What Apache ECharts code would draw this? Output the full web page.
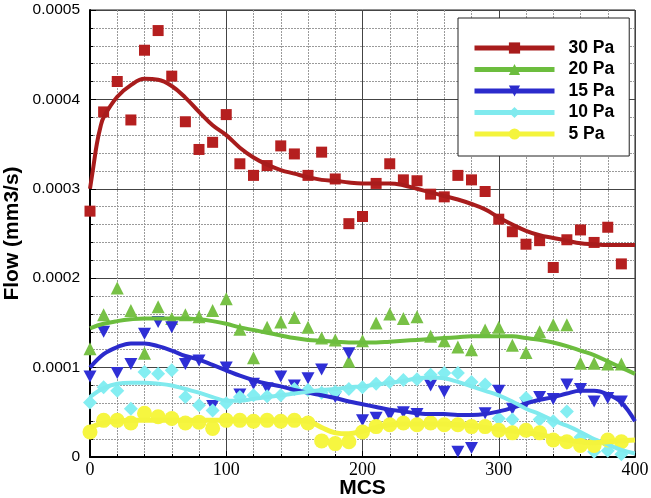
<!DOCTYPE html>
<html>
<head>
<meta charset="utf-8">
<script src="https://cdn.jsdelivr.net/npm/echarts@6/dist/echarts.min.js"></script>
<style>html,body{margin:0;padding:0;background:#fff}#c{width:651px;height:498px}</style>
</head>
<body>
<div id="c"></div>
<script>
// Sample positions (MCS) for measured points
var mcs = [0,10,20,30,40,50,60,70,80,90,100,110,120,130,140,150,160,170,180,190,200,210,220,230,240,250,260,270,280,290,300,310,320,330,340,350,360,370,380,390];
// Measured flow values, units of 1e-4 mm3/s
var pa30 = [2.75,3.86,4.20,3.77,4.55,4.77,4.26,3.75,3.44,3.52,3.83,3.28,3.15,3.26,3.48,3.39,3.15,3.41,3.11,2.61,2.69,3.06,3.28,3.10,3.09,2.94,2.91,3.15,3.10,2.97,2.66,2.52,2.38,2.42,2.12,2.43,2.54,2.40,2.57,2.16];
var pa20 = [1.21,1.59,1.89,1.64,1.16,1.68,1.55,1.59,1.57,1.64,1.77,1.43,1.11,1.45,1.51,1.56,1.45,1.33,1.31,1.07,1.30,1.50,1.60,1.55,1.57,1.35,1.30,1.23,1.20,1.42,1.45,1.25,1.17,1.40,1.48,1.48,1.05,1.05,1.04,1.04];
var pa15 = [0.90,1.40,0.94,1.04,1.38,1.51,1.45,1.04,1.08,0.57,1.00,0.70,0.82,0.77,0.90,0.80,0.88,0.98,0.67,1.16,0.41,0.44,0.47,0.50,0.48,0.80,0.73,0.06,0.10,0.49,0.74,0.54,0.60,0.67,0.65,0.81,0.76,0.62,0.66,0.62];
var pa10 = [0.61,0.78,0.74,0.54,0.95,0.93,0.97,0.67,0.58,0.52,0.60,0.67,0.69,0.68,0.69,0.76,0.75,0.72,0.73,0.76,0.78,0.82,0.84,0.86,0.87,0.92,0.94,0.94,0.84,0.81,0.43,0.42,0.66,0.42,0.40,0.51,0.22,0.06,0.07,0.03];
var pa5  = [0.28,0.41,0.41,0.38,0.49,0.45,0.43,0.38,0.39,0.32,0.41,0.41,0.40,0.41,0.40,0.41,0.38,0.18,0.15,0.17,0.28,0.34,0.36,0.38,0.36,0.38,0.36,0.36,0.34,0.34,0.30,0.27,0.30,0.27,0.19,0.17,0.13,0.13,0.19,0.17];

// Fitted curves
var fitX   = [0,10,20,30,40,50,60,70,80,90,100,110,120,130,140,150,160,170,180,190,200,210,220,230,240,250,260,270,280,290,300,310,320,330,340,350,360,370,380,390,400];
var fitX30 = [0,2.5,5,7.5,10,20,30,40,50,60,70,80,90,100,110,120,130,140,150,160,170,180,190,200,210,220,230,240,250,260,270,280,290,300,310,320,330,340,350,360,370,380,390,400];
var fit30 = [3.0,3.25,3.5,3.68,3.8,4.03,4.16,4.23,4.22,4.15,4.02,3.86,3.71,3.6,3.46,3.35,3.27,3.21,3.17,3.13,3.10,3.09,3.07,3.06,3.06,3.06,3.04,3.0,2.96,2.92,2.88,2.83,2.77,2.68,2.6,2.53,2.48,2.45,2.42,2.39,2.38,2.37,2.37,2.37];
var fit20 = [1.44,1.49,1.52,1.54,1.55,1.55,1.55,1.55,1.54,1.52,1.49,1.45,1.42,1.39,1.36,1.33,1.31,1.30,1.29,1.28,1.28,1.28,1.29,1.30,1.31,1.32,1.33,1.34,1.35,1.35,1.35,1.35,1.33,1.31,1.28,1.24,1.19,1.14,1.07,1.00,0.93];
var fit15 = [1.0,1.15,1.23,1.27,1.27,1.24,1.19,1.13,1.09,1.03,0.97,0.91,0.86,0.82,0.79,0.75,0.72,0.69,0.66,0.62,0.59,0.56,0.53,0.51,0.49,0.48,0.48,0.47,0.47,0.48,0.51,0.55,0.60,0.64,0.67,0.71,0.74,0.74,0.70,0.61,0.40];
var fit10 = [0.67,0.77,0.82,0.83,0.83,0.82,0.80,0.76,0.72,0.67,0.63,0.63,0.65,0.67,0.69,0.71,0.73,0.75,0.76,0.78,0.79,0.81,0.83,0.85,0.88,0.89,0.88,0.84,0.79,0.74,0.69,0.62,0.54,0.48,0.41,0.35,0.28,0.20,0.14,0.08,0.04];
var fit5  = [0.33,0.38,0.40,0.41,0.41,0.41,0.41,0.41,0.41,0.41,0.41,0.41,0.41,0.41,0.41,0.41,0.40,0.33,0.27,0.26,0.29,0.33,0.36,0.37,0.37,0.37,0.37,0.36,0.35,0.33,0.31,0.29,0.27,0.25,0.22,0.19,0.17,0.16,0.17,0.18,0.19];

var names = ['30 Pa','20 Pa','15 Pa','10 Pa','5 Pa'];

function pairs(xs, ys){ return ys.map(function(v,i){ return [xs[i], v*1e-4]; }); }

var cfg = [
  {name:names[0], pts:pa30, fx:fitX30, fy:fit30, line:'#a81c1c', mk:'#b51f1f', sym:'rect', size:11, lw:4},
  {name:names[1], pts:pa20, fx:fitX, fy:fit20, line:'#6cbd3e', mk:'#78c146', sym:'triangle', size:13, lw:4},
  {name:names[2], pts:pa15, fx:fitX, fy:fit15, line:'#2b2bcc', mk:'#2f2fd6', sym:'path://M0,0 L10,0 L5,9 Z', size:[13,12], lw:4},
  {name:names[3], pts:pa10, fx:fitX, fy:fit10, line:'#80eaee', mk:'#84eef2', sym:'diamond', size:14, lw:4},
  {name:names[4], pts:pa5, fx:fitX, fy:fit5, line:'#f4f43c', mk:'#f6f640', sym:'circle', size:15, lw:5}
];

var series = [];
cfg.forEach(function(c){
  series.push({
    name:c.name, type:'line', data:pairs(c.fx,c.fy), smooth:0.4, showSymbol:false,
    symbol:c.sym, symbolSize:c.size, z:4, silent:true,
    lineStyle:{color:c.line, width:c.lw}, itemStyle:{color:c.line}
  });
});
cfg.forEach(function(c){
  series.push({
    name:c.name, type:'scatter', data:pairs(mcs,c.pts), symbol:c.sym, symbolSize:c.size, z:3, silent:true,
    itemStyle:{color:c.mk, opacity:1}
  });
});

var chart = echarts.init(document.getElementById('c'), null, {renderer:'canvas'});
chart.setOption({
  animation:false,
  backgroundColor:'#fff',
  grid:{left:90, right:16, top:10, bottom:41, show:true, borderColor:'#222', borderWidth:1,
        containLabel:false, outerBoundsMode:'none'},
  xAxis:{
    type:'value', min:0, max:400, interval:100,
    name:'MCS', nameLocation:'middle', nameGap:21, nameMoveOverlap:false,
    nameTextStyle:{fontFamily:'Liberation Sans', fontWeight:'bold', fontSize:21, color:'#000'},
    axisLine:{show:true, onZero:false, lineStyle:{color:'#000', width:2}},
    axisTick:{show:true, inside:true, length:6, lineStyle:{color:'#000'}},
    minorTick:{show:true, splitNumber:5, length:3, lineStyle:{color:'#000'}},
    axisLabel:{fontFamily:'Liberation Serif', fontSize:18, color:'#000', margin:4},
    splitLine:{show:true, lineStyle:{color:'#444', width:1}},
    minorSplitLine:{show:true, lineStyle:{color:'#9a9a9a', width:1, type:[2,1]}}
  },
  yAxis:{
    type:'value', min:0, max:0.0005, interval:0.0001,
    name:'Flow (mm3/s)', nameLocation:'middle', nameGap:67, nameRotate:90, nameMoveOverlap:false,
    nameTextStyle:{fontFamily:'Liberation Sans', fontWeight:'bold', fontSize:21, color:'#000'},
    axisLine:{show:true, lineStyle:{color:'#000', width:2}},
    axisTick:{show:true, inside:true, length:6, lineStyle:{color:'#000'}},
    minorTick:{show:true, splitNumber:5, length:3, lineStyle:{color:'#000'}},
    axisLabel:{fontFamily:'Liberation Sans', fontSize:15.5, color:'#000', margin:10,
      formatter:function(v){ return v===0 ? '0' : v.toFixed(4); }},
    splitLine:{show:true, lineStyle:{color:'#444', width:1}},
    minorSplitLine:{show:true, lineStyle:{color:'#9a9a9a', width:1, type:[2,1]}}
  },
  legend:{
    data:names, orient:'vertical', left:458, top:18,
    itemWidth:80, itemHeight:14, itemGap:3.5,
    padding:[21,15,13,14],
    backgroundColor:'#fff', borderColor:'#222', borderWidth:1,
    lineStyle:{width:5},
    textStyle:{fontFamily:'Liberation Sans', fontWeight:'bold', fontSize:17.5, color:'#000', padding:[0,0,0,9]}
  },
  series:series
});
</script>
</body>
</html>
